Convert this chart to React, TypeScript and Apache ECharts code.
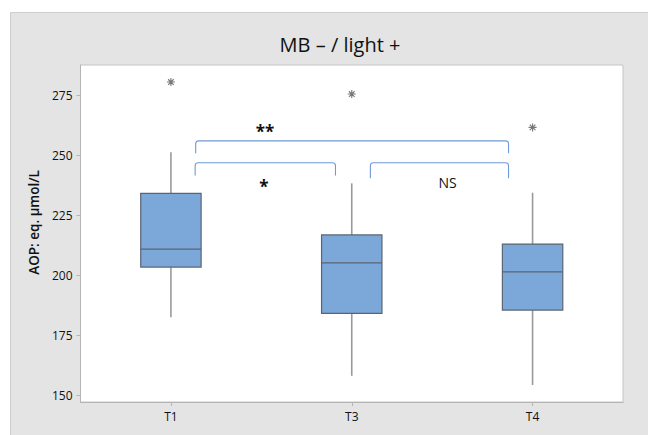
import React, { useEffect, useRef } from "react";
import * as echarts from "echarts";

const categories = ["T1", "T3", "T4"];
const whiskerLow = [182.4, 158.0, 154.2];
const q1 = [203.3, 184.0, 185.4];
const median = [210.8, 205.1, 201.3];
const q3 = [234.0, 216.7, 212.9];
const whiskerHigh = [251.1, 238.2, 234.3];
const outliers = [
  [0, 280.4],
  [1, 275.4],
  [2, 261.5],
];
const yTicks = [150, 175, 200, 225, 250, 275];
const yMin = 147.1;
const yMax = 287.5;

// significance brackets: anchor category, left offset, right offset (in category widths),
// top value, left foot value, right foot value, label offset, label value
const bracketLabels = ["**", "*", "NS"];
const bracketRows = [
  [0, 0.137, 1.867, 255.9, 250.7, 250.7, 0.52, 259.6],
  [0, 0.134, 0.91, 246.8, 241.5, 241.5, 0.514, 236.9],
  [0, 1.103, 1.867, 246.8, 240.3, 240.3, 1.53, 238.5],
];

const FONT = "'Open Sans', 'Noto Sans', sans-serif";

export default function App() {
  const ref = useRef<HTMLDivElement>(null);
  useEffect(() => {
    if (!ref.current) return;
    const chart = echarts.init(ref.current, undefined, { renderer: "svg" });
    const boxData = categories.map((_, i) => [
      i,
      whiskerLow[i],
      q1[i],
      median[i],
      q3[i],
      whiskerHigh[i],
    ]);
    chart.setOption({
      animation: false,
      backgroundColor: "#ffffff",
      textStyle: { fontFamily: FONT },
      graphic: [
        {
          type: "rect",
          z: -10,
          silent: true,
          shape: { x: 10.5, y: 12.5, width: 660, height: 440 },
          style: { fill: "#e4e4e4", stroke: "#cdcdcd", lineWidth: 1 },
        },
        {
          type: "text",
          x: 340,
          y: 44,
          style: {
            text: "MB – / light +",
            fill: "#111",
            font: `20px ${FONT}`,
            align: "center",
            verticalAlign: "middle",
          },
        },
      ],
      grid: {
        left: 80.5,
        top: 65,
        right: 25,
        bottom: 33,
        show: true,
        backgroundColor: "#ffffff",
        borderColor: "#c4c4c4",
        borderWidth: 1,
      },
      xAxis: {
        type: "category",
        data: categories,
        boundaryGap: true,
        axisLine: { show: true, lineStyle: { color: "#b5b5b5", width: 1 } },
        axisTick: {
          show: true,
          alignWithLabel: true,
          length: 4,
          lineStyle: { color: "#b5b5b5" },
        },
        axisLabel: { color: "#111", fontSize: 12, margin: 8, fontFamily: FONT },
        splitLine: { show: false },
      },
      yAxis: {
        type: "value",
        min: yMin,
        max: yMax,
        name: "AOP: eq. µmol/L",
        nameLocation: "middle",
        nameGap: 40,
        nameTextStyle: {
          color: "#111",
          fontSize: 13.5,
          fontWeight: 600,
          fontFamily: FONT,
          padding: [0, 0, 0, 22],
        },
        axisLine: { show: true, lineStyle: { color: "#b5b5b5", width: 1 } },
        axisTick: {
          show: true,
          length: 4,
          customValues: yTicks,
          lineStyle: { color: "#b5b5b5" },
        },
        axisLabel: {
          color: "#111",
          fontSize: 12,
          margin: 8,
          customValues: yTicks,
          fontFamily: FONT,
        },
        splitLine: { show: false },
      },
      series: [
        {
          type: "custom",
          name: "box",
          data: boxData,
          encode: { x: 0, y: [1, 2, 3, 4, 5] },
          renderItem: (params: any, api: any) => {
            const i = api.value(0);
            const lo = api.coord([i, api.value(1)]);
            const b1 = api.coord([i, api.value(2)]);
            const md = api.coord([i, api.value(3)]);
            const b3 = api.coord([i, api.value(4)]);
            const hi = api.coord([i, api.value(5)]);
            const bw = api.size([1, 0])[0] * 0.334;
            const cx = lo[0];
            return {
              type: "group",
              children: [
                {
                  type: "line",
                  shape: { x1: cx, y1: hi[1], x2: cx, y2: lo[1] },
                  style: { stroke: "#9a9a9a", lineWidth: 1.6 },
                },
                {
                  type: "rect",
                  shape: { x: cx - bw / 2, y: b3[1], width: bw, height: b1[1] - b3[1] },
                  style: { fill: "#7ba7d9", stroke: "#5b6572", lineWidth: 1.2 },
                },
                {
                  type: "line",
                  shape: { x1: cx - bw / 2, y1: md[1], x2: cx + bw / 2, y2: md[1] },
                  style: { stroke: "#5b6572", lineWidth: 1.2 },
                },
              ],
            };
          },
          z: 3,
        },
        {
          type: "scatter",
          name: "outliers",
          data: outliers,
          symbol: "path://M5,0L5,10M0,5L10,5M1.5,1.5L8.5,8.5M1.5,8.5L8.5,1.5",
          symbolSize: 8,
          itemStyle: { color: "transparent", borderColor: "#555", borderWidth: 1.1 },
          z: 4,
        },
        {
          type: "custom",
          name: "brackets",
          data: bracketRows,
          encode: { x: 0, y: 3 },
          renderItem: (params: any, api: any) => {
            const a = api.value(0);
            const band = api.size([1, 0])[0];
            const base = api.coord([a, api.value(3)]);
            const x1 = base[0] + api.value(1) * band;
            const x2 = base[0] + api.value(2) * band;
            const yt = base[1];
            const yl = api.coord([a, api.value(4)])[1];
            const yr = api.coord([a, api.value(5)])[1];
            const r = 3;
            const lab = api.coord([a, api.value(7)]);
            const lx = base[0] + api.value(6) * band;
            const text = bracketLabels[params.dataIndex];
            const isStar = text.indexOf("*") >= 0;
            return {
              type: "group",
              children: [
                {
                  type: "path",
                  shape: {
                    pathData: `M${x1},${yl}L${x1},${yt + r}Q${x1},${yt} ${x1 + r},${yt}L${x2 - r},${yt}Q${x2},${yt} ${x2},${yt + r}L${x2},${yr}`,
                  },
                  style: { fill: "none", stroke: "#6f9ad6", lineWidth: 1.1 },
                },
                {
                  type: "text",
                  style: {
                    text,
                    x: lx,
                    y: lab[1],
                    fill: "#111",
                    font: isStar ? `bold 17px ${FONT}` : `14px ${FONT}`,
                    align: "center",
                    verticalAlign: "middle",
                    textAlign: "center",
                    textVerticalAlign: "middle",
                  },
                },
              ],
            };
          },
          z: 5,
        },
      ],
    });
    return () => chart.dispose();
  }, []);
  return (
    <div
      ref={ref}
      style={{ position: "absolute", left: 0, top: 0, width: 648, height: 435 }}
    />
  );
}
